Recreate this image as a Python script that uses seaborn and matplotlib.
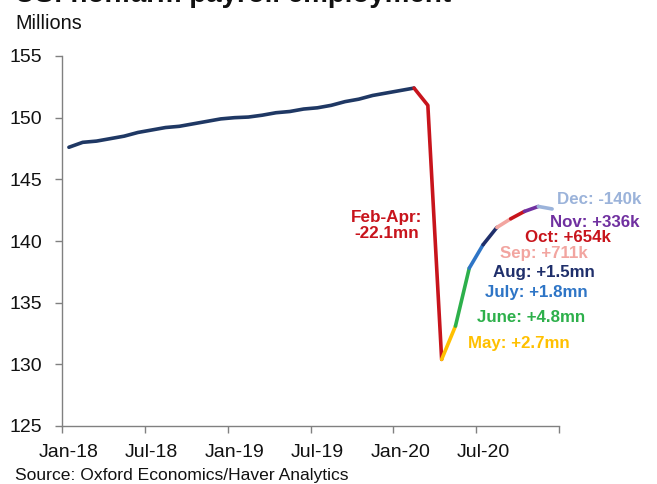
import matplotlib
matplotlib.use("Agg")
import matplotlib.pyplot as plt
import seaborn as sns
import pandas as pd
import numpy as np
from matplotlib.ticker import FixedLocator

# ---------------- data ----------------
months = list(pd.date_range("2018-01-01", "2020-12-01", freq="MS").strftime("%b-%y"))
payrolls = [147.6, 148.0, 148.1, 148.3, 148.5, 148.8, 149.0, 149.2, 149.3, 149.5, 149.7, 149.9,
            150.0, 150.05, 150.2, 150.4, 150.5, 150.7, 150.8, 151.0, 151.3, 151.5, 151.8, 152.0,
            152.2, 152.4, 151.0, 130.4, 133.1, 137.8, 139.7, 141.1, 141.8, 142.4, 142.8, 142.6]
tick_labels = ["Jan-18", "Jul-18", "Jan-19", "Jul-19", "Jan-20", "Jul-20"]
y_ticks = [125, 130, 135, 140, 145, 150, 155]

# segments: (start month, end month, colour)
seg_names = ["pre", "Feb-Apr", "May", "June", "July", "Aug", "Sep", "Oct", "Nov", "Dec"]
seg_start = ["Jan-18", "Feb-20", "Apr-20", "May-20", "Jun-20", "Jul-20", "Aug-20", "Sep-20", "Oct-20", "Nov-20"]
seg_end = ["Feb-20", "Apr-20", "May-20", "Jun-20", "Jul-20", "Aug-20", "Sep-20", "Oct-20", "Nov-20", "Dec-20"]
seg_colors = ["#1F3864", "#C8141C", "#FFC000", "#2DB04B", "#2E75C6", "#1F2F6B",
              "#F2A5A0", "#C8141C", "#7030A0", "#9BB3DA"]

label_texts = ["May: +2.7mn", "June: +4.8mn", "July: +1.8mn", "Aug: +1.5mn",
               "Sep: +711k", "Oct: +654k", "Nov: +336k", "Dec: -140k"]

# ---------------- build long table ----------------
rows = []
for name, s, e in zip(seg_names, seg_start, seg_end):
    i0, i1 = months.index(s), months.index(e)
    for i in range(i0, i1 + 1):
        rows.append({"seg": name, "idx": i, "value": payrolls[i]})
df = pd.DataFrame(rows)

sns.set_theme(style="white")
plt.rcParams["font.family"] = ["Liberation Sans", "DejaVu Sans"]

fig = plt.figure(figsize=(6.57, 4.84), dpi=100)
ax = fig.add_axes([62 / 657, 1 - 426 / 484, (559 - 62) / 657, (426 - 56) / 484])

palette = dict(zip(seg_names, seg_colors))
sns.lineplot(data=df, x="idx", y="value", hue="seg", palette=palette, units="seg",
             estimator=None, sort=True, linewidth=2.6, legend=False, ax=ax)

ax.set_xlim(-0.5, 35.5)
ax.set_ylim(125, 155)
ax.set_xlabel("")
ax.set_ylabel("")

# x axis: labels at category centres, tick marks at boundaries
label_idx = [months.index(t) for t in tick_labels]
ax.xaxis.set_major_locator(FixedLocator(label_idx))
ax.set_xticklabels(tick_labels)
ax.xaxis.set_minor_locator(FixedLocator(list(np.arange(-0.5, 36, 6))))
ax.tick_params(axis="x", which="major", length=0, pad=13, labelsize=14, labelcolor="#111111")
ax.tick_params(axis="x", which="minor", length=5, width=1, color="#808080", direction="out", bottom=True)

ax.set_yticks(y_ticks)
ax.tick_params(axis="y", which="major", length=5, width=1, color="#808080", direction="out",
               pad=9, labelsize=14, labelcolor="#111111", left=True)

for side in ["top", "right"]:
    ax.spines[side].set_visible(False)
for side in ["left", "bottom"]:
    ax.spines[side].set_color("#808080")
    ax.spines[side].set_linewidth(1)

# annotations
ax.text(23.04, 141.25, "Feb-Apr:\n-22.1mn", color="#C8141C", fontsize=12.3, fontweight="bold",
        ha="center", va="center", linespacing=1.15)
label_pos = [(28.91, 131.72), (29.56, 133.83), (30.14, 135.86), (30.72, 137.48),
             (31.23, 139.02), (33.04, 140.32), (34.85, 141.54), (35.35, 143.40)]
label_cols = seg_colors[2:]
for txt, (px, py), c in zip(label_texts, label_pos, label_cols):
    ax.text(px, py, txt, color=c, fontsize=12.2, fontweight="bold", ha="left", va="center",
            clip_on=False)

# titles and source
fig.text(15 / 657, 1 - 2 / 484, "US: nonfarm payroll employment", fontsize=20, fontweight="bold",
         ha="left", va="baseline", color="#111111")
fig.text(15 / 657, 1 - 29 / 484, "Millions", fontsize=14.3, ha="left", va="baseline", color="#111111")
fig.text(15 / 657, 1 - 480 / 484, "Source: Oxford Economics/Haver Analytics", fontsize=12.6,
         ha="left", va="baseline", color="#111111")

fig.savefig("out.png", dpi=100)
